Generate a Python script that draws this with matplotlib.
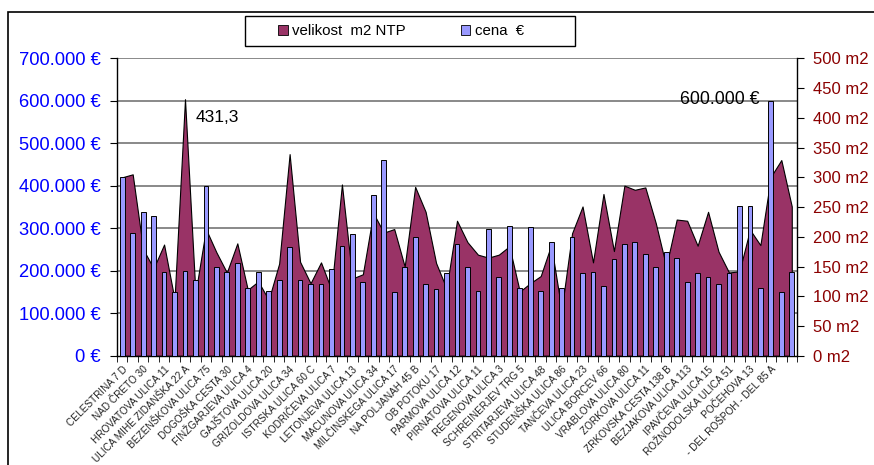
import matplotlib
matplotlib.use("Agg")
import matplotlib.pyplot as plt
import numpy as np
from matplotlib.ticker import FuncFormatter, FixedLocator
from matplotlib.patches import Patch, Rectangle
from matplotlib.transforms import blended_transform_factory

plt.rcParams['font.family'] = ['Liberation Sans', 'DejaVu Sans']

# ---------------- data ----------------
tick_labels = [
    "CELESTRINA 7 D", "NAD ČRETO 30", "HROVATOVA ULICA 11", "ULICA MIHE ZIDANŠKA 22 A",
    "BEZENŠKOVA ULICA 75", "DOGOŠKA CESTA 30", "FINŽGARJEVA ULICA 4", "GAJŠTOVA ULICA 20",
    "GRIZOLDOVA ULICA 34", "ISTRSKA ULICA 60 C", "KODRIČEVA ULICA 7", "LETONJEVA ULICA 13",
    "MACUNOVA ULICA 34", "MILČINSKEGA ULICA 17", "NA POLJANAH 45 B", "OB POTOKU 17",
    "PARMOVA ULICA 12", "PIRNATOVA ULICA 11", "REGENOVA ULICA 3", "SCHREINERJEV TRG 5",
    "STRITARJEVA ULICA 48", "STUDENŠKA ULICA 86", "TANČEVA ULICA 23", "ULICA BORCEV 66",
    "VRABLOVA ULICA 80", "ZORKOVA ULICA 11", "ZRKOVSKA CESTA 138 B", "BEZJAKOVA ULICA 113",
    "IPAVČEVA ULICA 15", "ROŽNODOLSKA ULICA 51", "POČEHOVA 13", "- DEL ROŠPOH - DEL 85 A",
]

cena = [
    421000, 290000, 338000, 328000, 198000, 150000, 200000, 178000, 400000, 210000,
    198000, 218000, 160000, 198000, 153000, 178000, 257000, 178000, 169000, 169000,
    205000, 259000, 286000, 174000, 378000, 461000, 150000, 209000, 279000, 169000,
    158000, 194000, 263000, 209000, 153000, 299000, 185000, 306000, 160000, 303000,
    153000, 268000, 160000, 279000, 194000, 198000, 164000, 227000, 263000, 268000,
    239000, 209000, 245000, 230000, 174000, 194000, 185000, 169000, 194000, 353000,
    353000, 160000, 600000, 149000, 198000,
]

velikost = [
    300, 305, 179, 147, 187, 95, 431.3, 105, 213, 174,
    140, 189, 111, 125, 94, 155, 339, 158, 122, 157,
    111, 288, 130, 137, 240, 207, 213, 150, 284, 242,
    156, 113, 227, 191, 170, 165, 170, 184, 108, 122,
    134, 186, 77, 206, 251, 157, 272, 176, 286, 279,
    283, 223, 150, 229, 227, 185, 242, 175, 140, 142,
    212, 186, 301, 329, 251,
]

price_ticks = [0, 100000, 200000, 300000, 400000, 500000, 600000, 700000]
m2_ticks = [0, 50, 100, 150, 200, 250, 300, 350, 400, 450, 500]

# ---------------- figure ----------------
W, H = 874, 465
fig = plt.figure(figsize=(W / 100, H / 100), dpi=100)
fig.patch.set_facecolor('white')

left, right, bottom, top = 117 / W, 797 / W, 1 - 355.8 / H, 1 - 58.3 / H
ax = fig.add_axes([left, bottom, right - left, top - bottom])
ax2 = ax.twinx()

n = len(cena)
x = np.arange(n)

ax.set_xlim(-0.5, n - 0.5)
ax.set_ylim(0, 700000)
ax2.set_ylim(0, 500)

# z-order: area axis below, bars axis on top
ax2.set_zorder(1)
ax.set_zorder(2)
ax.patch.set_visible(False)
ax2.patch.set_visible(True)
ax2.patch.set_facecolor('white')

# gridlines drawn in the lower (area) axes so the area hides them
trans = blended_transform_factory(ax2.transAxes, ax.transData)
for v in price_ticks[1:]:
    ax2.plot([0, 1], [v, v], transform=trans, color='#808080', lw=1.3, zorder=0.5)

# area series (secondary axis)
ax2.fill_between(x, velikost, 0, facecolor='#993366', edgecolor='black', lw=0.8, zorder=2)

# bars (primary axis)
ax.bar(x, cena, width=0.45, color='#9999FF', edgecolor='black', lw=0.7, zorder=3)

# ---------------- axes styling ----------------
fmt = FuncFormatter(lambda v, p: ("{:,.0f}".format(v).replace(",", ".") + " €"))
ax.yaxis.set_major_locator(FixedLocator(price_ticks))
ax.yaxis.set_major_formatter(fmt)
ax.tick_params(axis='y', which='major', direction='out', length=5, color='black',
               labelcolor='#0000FF', labelsize=13.2, pad=6.5)

ax2.yaxis.set_major_locator(FixedLocator(m2_ticks))
ax2.yaxis.set_major_formatter(FuncFormatter(lambda v, p: f"{v:.0f} m2"))
ax2.tick_params(axis='y', which='major', direction='out', length=5, color='black',
                labelcolor='#8B0000', labelsize=12, pad=6.5)

label_pos = np.arange(0, n - 1, 2)[:len(tick_labels)]
ax.set_xticks(label_pos)
ax.set_xticklabels(tick_labels, rotation=45, ha='right', va='top',
                   rotation_mode='anchor', fontsize=7.2, color='#222222')
ax.set_xticks(np.arange(-0.5, n, 1), minor=True)
ax.tick_params(axis='x', which='major', length=0, pad=6)
ax.tick_params(axis='x', which='minor', length=4, direction='out', color='black')
ax2.tick_params(axis='x', which='both', length=0)

for a in (ax, ax2):
    a.spines['top'].set_visible(False)
ax.spines['right'].set_visible(False)
ax2.spines['left'].set_visible(False)
ax2.spines['bottom'].set_visible(False)
ax.spines['left'].set_color('black')
ax.spines['bottom'].set_color('black')
ax2.spines['right'].set_color('black')
for s in (ax.spines['left'], ax.spines['bottom'], ax2.spines['right']):
    s.set_linewidth(1.0)

# annotations
ax2.annotate("431,3", xy=(6, 431.3), xytext=(196 / W, 1 - 117 / H), textcoords='figure fraction',
             ha='left', va='center', fontsize=12.5, color='black', zorder=5)
ax.annotate("600.000 €", xy=(62, 600000), xytext=(759 / W, 1 - 99 / H), textcoords='figure fraction',
            ha='right', va='center', fontsize=12.8, color='black', zorder=5)

# legend (frame drawn as a box of the reference size)
fig.add_artist(Rectangle((245 / W, 1 - 46 / H), 330 / W, 30 / H, transform=fig.transFigure,
                         facecolor='white', edgecolor='black', lw=1.0, zorder=4))
handles = [Patch(facecolor='#993366', edgecolor='black', lw=0.6),
           Patch(facecolor='#9999FF', edgecolor='black', lw=0.6)]
leg = fig.legend(handles, ["velikost  m2 NTP", "cena  €"], ncol=2, loc='center left',
                 bbox_to_anchor=(278 / W, 1 - 31 / H), frameon=False,
                 fontsize=10.8, handlelength=0.65, handleheight=0.65, handletextpad=0.3,
                 columnspacing=3.65, borderpad=0, borderaxespad=0)
leg.set_zorder(5)

# outer chart frame (partly outside the image)
fig.add_artist(Rectangle((8 / W, -0.2), 1.3, 1 - 12 / H + 0.2, transform=fig.transFigure,
                         fill=False, edgecolor='black', lw=1.2))

fig.savefig("out.png", dpi=100)
